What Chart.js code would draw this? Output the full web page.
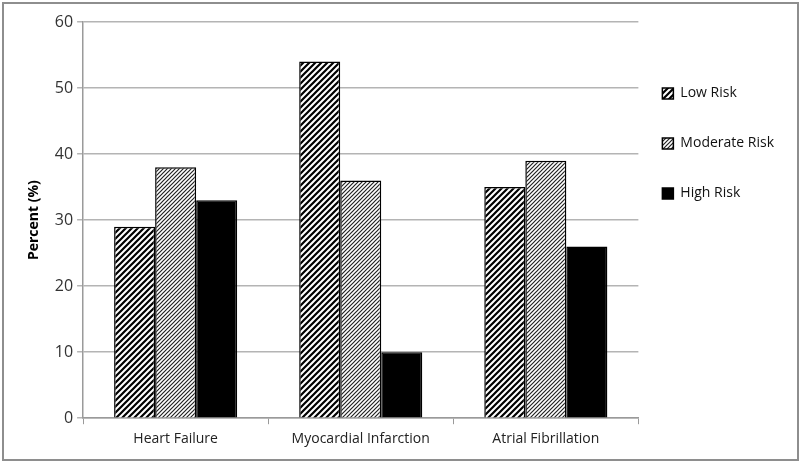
<!DOCTYPE html>
<html>
<head>
<meta charset="utf-8">
<script src="https://cdn.jsdelivr.net/npm/chart.js@4/dist/chart.umd.min.js"></script>
<style>
  html, body { margin: 0; padding: 0; background: #fff; }
  #wrap { position: relative; width: 800px; height: 463px; }
  #frame { position: absolute; left: 2px; top: 2px; width: 793px; height: 455px; border: 2px solid #8e8e8e; pointer-events: none; }
  canvas { position: absolute; left: 0; top: 0; }
</style>
</head>
<body>
<div id="wrap">
  <canvas id="myBarChart" width="800" height="463"></canvas>
  <div id="frame"></div>
</div>
<script>
// Data
var categories = ["Heart Failure", "Myocardial Infarction", "Atrial Fibrillation"];
var lowRisk = [29, 54, 35];
var moderateRisk = [38, 36, 39];
var highRisk = [33, 10, 26];
var yTicks = [0, 10, 20, 30, 40, 50, 60];

Chart.defaults.font.family = '"Open Sans", Lato, sans-serif';
Chart.defaults.color = '#333';

// hatch patterns
function makeHatch(size, lineWidth, color) {
  var c = document.createElement('canvas');
  c.width = size; c.height = size;
  var g = c.getContext('2d');
  g.fillStyle = '#fff';
  g.fillRect(0, 0, size, size);
  g.strokeStyle = color;
  g.lineWidth = lineWidth;
  g.beginPath();
  g.moveTo(0, size); g.lineTo(size, 0);
  g.moveTo(-size, size); g.lineTo(size, -size);
  g.moveTo(0, 2 * size); g.lineTo(2 * size, 0);
  g.stroke();
  return g.createPattern(c, 'repeat');
}

var lowPattern = makeHatch(6, 2.2, '#000');
var modPattern = makeHatch(4, 1.2, '#222');

// pull the legend a bit closer to the plot (keeps the wide vertical spacing)
var legendShift = {
  id: 'legendShift',
  afterLayout: function (chart) {
    if (chart.legend) {
      chart.legend.left -= 12;
      chart.legend.right -= 12;
    }
  }
};

var ctx = document.getElementById("myBarChart");
new Chart(ctx, {
  type: 'bar',
  data: {
    labels: categories,
    datasets: [
      { label: "Low Risk", data: lowRisk, backgroundColor: lowPattern, borderColor: '#000', borderWidth: 1.5 },
      { label: "Moderate Risk", data: moderateRisk, backgroundColor: modPattern, borderColor: '#000', borderWidth: 1.5 },
      { label: "High Risk", data: highRisk, backgroundColor: '#000', borderColor: '#000', borderWidth: 1.5 }
    ]
  },
  plugins: [legendShift],
  options: {
    responsive: false,
    animation: false,
    layout: { padding: { top: 22, right: 4, bottom: 10, left: 26 } },
    datasets: {
      bar: { barPercentage: 1.0, categoryPercentage: 0.665 }
    },
    scales: {
      x: {
        grid: { display: true, drawOnChartArea: false, drawTicks: true, tickLength: 6, color: '#9a9a9a', offset: true },
        border: { color: '#9a9a9a', width: 1.5 },
        ticks: { font: { size: 14 }, color: '#222', padding: 6 },
      },
      y: {
        min: 0,
        max: 60,
        afterBuildTicks: function (axis) {
          axis.ticks = yTicks.map(function (v) { return { value: v }; });
        },
        grid: { color: '#b4b4b4', lineWidth: 1.5, tickLength: 6 },
        border: { color: '#9a9a9a', width: 1.5 },
        ticks: { font: { size: 16 }, color: '#333', padding: 4 },
        title: { display: true, text: 'Percent (%)', font: { size: 14, weight: 'bold' }, color: '#000', padding: { top: 0, bottom: 8 } }
      }
    },
    plugins: {
      legend: {
        display: true,
        position: 'right',
        align: 'start',
        title: { display: true, text: ' ', padding: 7 },
        labels: { boxWidth: 11, boxHeight: 11, padding: 36, font: { size: 14 }, color: '#111' }
      },
      tooltip: { enabled: false }
    }
  }
});
</script>
</body>
</html>
